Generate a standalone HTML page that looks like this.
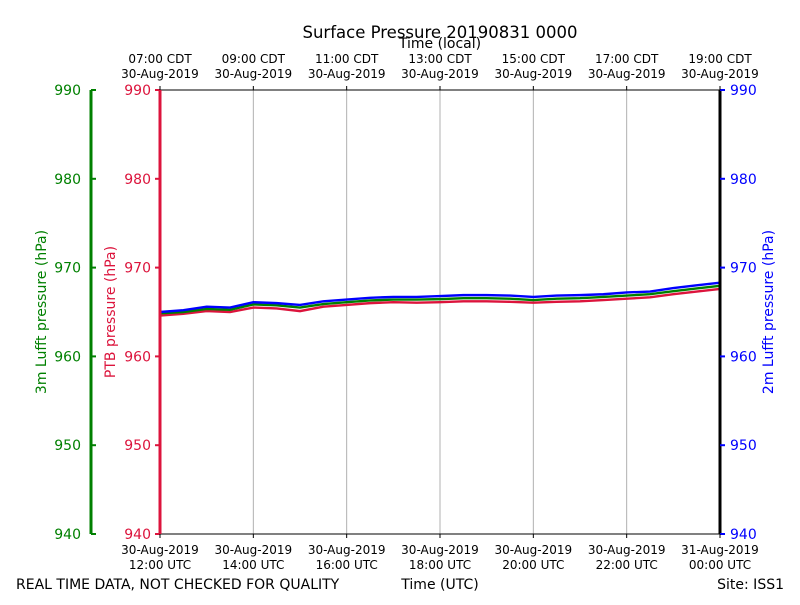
<!DOCTYPE html>
<html><head><meta charset="utf-8"><style>
body{margin:0;background:#fff}
svg text{font-family:"DejaVu Sans","Liberation Sans",sans-serif}
</style></head><body>
<svg id="c" width="800" height="600" xmlns="http://www.w3.org/2000/svg"></svg>
<script>
const hours=[0,0.5,1,1.5,2,2.5,3,3.5,4,4.5,5,5.5,6,6.5,7,7.5,8,8.5,9,9.5,10,10.5,11,11.5,12];
const blue2m=[965.0,965.2,965.6,965.5,966.1,966.0,965.8,966.2,966.4,966.6,966.7,966.7,966.8,966.9,966.9,966.85,966.7,966.85,966.9,967.0,967.2,967.3,967.7,968.0,968.3];
const green3m=[964.85,965.0,965.35,965.25,965.85,965.75,965.5,965.9,966.1,966.3,966.4,966.4,966.45,966.55,966.55,966.5,966.35,966.5,966.55,966.7,966.85,967.0,967.35,967.65,967.95];
const redPTB=[964.6,964.8,965.1,965.0,965.5,965.4,965.1,965.6,965.8,966.0,966.1,966.05,966.1,966.2,966.2,966.15,966.05,966.15,966.2,966.35,966.5,966.65,967.0,967.3,967.6];
const yTicks=[940,950,960,970,980,990];
const utcLabels=[["30-Aug-2019","12:00 UTC"],["30-Aug-2019","14:00 UTC"],["30-Aug-2019","16:00 UTC"],["30-Aug-2019","18:00 UTC"],["30-Aug-2019","20:00 UTC"],["30-Aug-2019","22:00 UTC"],["31-Aug-2019","00:00 UTC"]];
const localLabels=[["07:00 CDT","30-Aug-2019"],["09:00 CDT","30-Aug-2019"],["11:00 CDT","30-Aug-2019"],["13:00 CDT","30-Aug-2019"],["15:00 CDT","30-Aug-2019"],["17:00 CDT","30-Aug-2019"],["19:00 CDT","30-Aug-2019"]];
const X0=160,X1=720,Y0=534,Y1=90;
const xs=h=>X0+(X1-X0)*h/12;
const ys=v=>Y0-(Y0-Y1)*(v-940)/50;
const svg=document.getElementById('c');
const NS="http://www.w3.org/2000/svg";
function mk(t,a,p){const e=document.createElementNS(NS,t);for(const k in a)e.setAttribute(k,a[k]);(p||svg).appendChild(e);return e;}
function tx(s,x,y,a,col,size,anchor){const e=mk('text',{x:x,y:y,fill:col||'#000','font-size':size||12,'text-anchor':anchor||'middle'});e.textContent=s;return e;}
for(let i=1;i<6;i++){const g=mk('line',{x1:xs(i*2),x2:xs(i*2),y1:Y1,y2:Y0,stroke:'#b0b0b0','stroke-width':1});

}
const fr=mk('rect',{x:X0,y:Y1,width:X1-X0,height:Y0-Y1,fill:'none',stroke:'#000','stroke-width':1});


function series(arr,col,name){const p=mk('polyline',{points:hours.map((h,i)=>xs(h)+','+ys(arr[i])).join(' '),fill:'none',stroke:col,'stroke-width':2.4});

}
series(redPTB,'#dc143c','ptb-pressure-line');
series(green3m,'#008000','lufft-3m-pressure-line');
series(blue2m,'#0000ff','lufft-2m-pressure-line');
const sg=mk('line',{x1:91,x2:91,y1:Y1,y2:Y0,stroke:'#008000','stroke-width':3});


const sr=mk('line',{x1:160,x2:160,y1:Y1,y2:Y0,stroke:'#dc143c','stroke-width':3});


const sb=mk('line',{x1:720,x2:720,y1:Y1,y2:Y0,stroke:'#000','stroke-width':3});


yTicks.forEach(v=>{const y=ys(v);
mk('line',{x1:91,x2:96,y1:y,y2:y,stroke:'#008000','stroke-width':2});
const a=tx(v,81,y+5,0,'#008000',14,'end');
mk('line',{x1:155,x2:160,y1:y,y2:y,stroke:'#dc143c','stroke-width':2});
const b=tx(v,151,y+5,0,'#dc143c',14,'end');
mk('line',{x1:720,x2:725,y1:y,y2:y,stroke:'#0000ff','stroke-width':2});
const c=tx(v,730,y+5,0,'#0000ff',14,'start');
});
utcLabels.forEach((l,i)=>{const x=xs(i*2);
mk('line',{x1:x,x2:x,y1:Y0,y2:Y0+4,stroke:'#000'});
const a=tx(l[0],x,554,0,'#000',12);
tx(l[1],x,569,0,'#000',12);});
localLabels.forEach((l,i)=>{const x=xs(i*2);
mk('line',{x1:x,x2:x,y1:Y1,y2:Y1-4,stroke:'#000'});
const a=tx(l[0],x,63,0,'#000',12);
tx(l[1],x,78,0,'#000',12);});
const t=tx('Surface Pressure 20190831 0000',440,38,0,'#000',16.5);
const tl=tx('Time (local)',440,48,0,'#000',14);
const tu=tx('Time (UTC)',440,589,0,'#000',14);
const f1=tx('REAL TIME DATA, NOT CHECKED FOR QUALITY',16,589,0,'#000',14,'start');
const f2=tx('Site: ISS1',784,589,0,'#000',14,'end');
function ylab(s,x,col,name){const e=mk('text',{x:0,y:0,fill:col,'font-size':14,'text-anchor':'middle',transform:`translate(${x},312) rotate(-90)`});e.textContent=s;

}
ylab('3m Lufft pressure (hPa)',46,'#008000','lufft-3m-axis-title');
ylab('PTB pressure (hPa)',115,'#dc143c','ptb-axis-title');
ylab('2m Lufft pressure (hPa)',773,'#0000ff','lufft-2m-axis-title');
</script>
</body></html>
